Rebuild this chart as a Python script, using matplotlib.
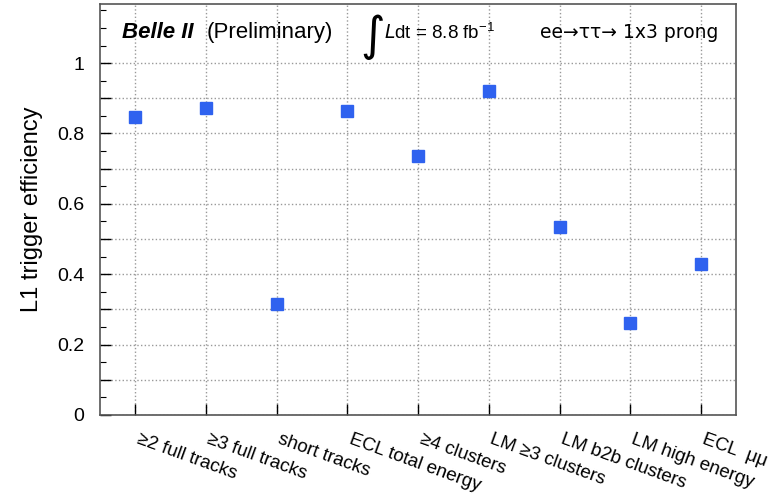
import numpy as np
import matplotlib
matplotlib.use('Agg')
from matplotlib import pyplot as plt
from matplotlib.ticker import MultipleLocator
from matplotlib.transforms import ScaledTranslation

plt.rcParams['font.family'] = ['Liberation Sans', 'DejaVu Sans']

categories = ['≥2 full tracks', '≥3 full tracks', 'short tracks', 'ECL total energy',
              '≥4 clusters', 'LM ≥3 clusters', 'LM b2b clusters', 'LM high energy', 'ECL  μμ']
efficiency = [0.847, 0.871, 0.316, 0.863, 0.737, 0.920, 0.533, 0.262, 0.429]

fig = plt.figure(figsize=(7.8, 4.97), dpi=100)
ax = fig.add_axes([0.128, 0.165, 0.816, 0.827])

x = np.arange(len(categories))
ax.plot(x, efficiency, 's', color='#2f62ef', markersize=8.5, zorder=3)

ax.set_xlim(-0.5, len(categories) - 0.5)
ax.set_ylim(0, 1.168)

# gridlines every 0.1, labels every 0.2, small ticks every 0.05
ax.set_yticks(list(np.arange(0, 1.01, 0.1)))
ax.set_yticklabels(['0' if i == 0 else ('' if i % 2 else '%g' % (i / 10)) for i in range(11)])
ax.yaxis.set_minor_locator(MultipleLocator(0.05))

ax.set_xticks(x)
ax.set_xticklabels([])
# rotated category labels, nudged right of their ticks like the original
lab_tr = ax.get_xaxis_transform() + ScaledTranslation(5 / 100, -16 / 100, fig.dpi_scale_trans)
for xi, name in zip(x, categories):
    ax.text(xi, 0, name, transform=lab_tr, rotation=-20, rotation_mode='anchor',
            ha='left', va='top', fontsize=13.5)

ax.tick_params(axis='y', which='major', direction='in', length=8, width=1, labelsize=14, pad=11)
ax.tick_params(axis='y', which='minor', direction='in', length=4, width=0.8)
ax.tick_params(axis='x', which='major', direction='in', length=8, width=1)

ax.grid(True, which='major', linestyle=':', color='#999999', linewidth=1)
for s in ax.spines.values():
    s.set_color('#555555')
    s.set_linewidth(1.2)

ax.set_ylabel('L1 trigger efficiency', fontsize=17, labelpad=10)

# header
hy = 0.93
ax.text(0.035, hy, 'Belle II', transform=ax.transAxes, fontsize=16, fontweight='bold',
        fontstyle='italic', va='center')
ax.text(0.167, hy, '(Preliminary)', transform=ax.transAxes, fontsize=16, va='center')
ax.text(0.41, hy - 0.012, '∫', transform=ax.transAxes, fontsize=34, va='center', family='DejaVu Sans')
ax.text(0.447, hy, r'$\it{L}$dt = 8.8 fb$^{\mathregular{-1}}$', transform=ax.transAxes,
        fontsize=13.5, va='center')
ax.text(0.692, hy, 'ee→ττ→ 1x3 prong', transform=ax.transAxes, fontsize=13.5, va='center',
        family=['DejaVu Sans'])

fig.savefig('out.png', dpi=100)
